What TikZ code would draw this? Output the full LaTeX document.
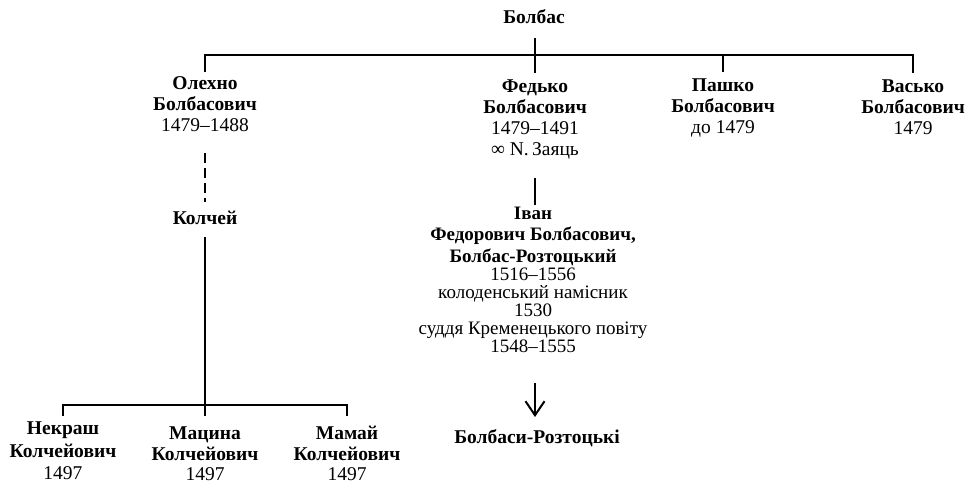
\documentclass[tikz,border=0pt]{standalone}
\usepackage{fontspec}
\setmainfont{Liberation Serif}
\usetikzlibrary{arrows.meta}
\tikzset{
  person/.style={align=center, inner sep=0pt, anchor=base, font=\rmfamily\fontsize{19.5}{21}\selectfont},
  link/.style={line width=2pt},
  dlink/.style={line width=2pt, dash pattern=on 10pt off 5pt},
}
\newcommand{\nmb}[1]{{\bfseries #1}}
\begin{document}
\begin{tikzpicture}[x=1pt,y=-1pt]
\useasboundingbox (0,0) rectangle (968,483);
% root
\node[person] (bolbas) at (534,23) {\nmb{Болбас}};
\coordinate (bt) at (535,38);
\coordinate (bb) at (535,73);
\coordinate (hl) at (205,55);
\coordinate (hr) at (913,55);
\coordinate (ol) at (205,72);
\coordinate (vl) at (913,73);
\coordinate (pj1) at (723,55);
\coordinate (pj2) at (723,72);
\draw[link] (bt) -- (bb);
\draw[link] (ol) -- (hl) -- (hr) -- (vl);
\draw[link] (pj1) -- (pj2);
% children
\node[person] (olekhno) at (205,131.5) {\nmb{Олехно}\\\nmb{Болбасович}\\1479–1488};
\node[person] (fedko) at (535,155) {\nmb{Федько}\\\nmb{Болбасович}\\1479–1491\\∞ N.\,Заяць};
\node[person] (pashko) at (723,133) {\nmb{Пашко}\\\nmb{Болбасович}\\до 1479};
\node[person] (vasko) at (913,134.5) {\nmb{Васько}\\\nmb{Болбасович}\\1479};
% Kolchei
\coordinate (d1) at (205,153);
\coordinate (d2) at (205,202);
\draw[dlink] (d1) -- (d2);
\node[person] (kolchei) at (205,224) {\nmb{Колчей}};
\coordinate (k1) at (205,237);
\coordinate (k2) at (205,405);
\coordinate (kl) at (63,405);
\coordinate (kr) at (347,405);
\coordinate (kl2) at (63,416);
\coordinate (kr2) at (347,416);
\coordinate (km2) at (205,416);
\draw[link] (k1) -- (k2) -- (km2);
\draw[link] (kl2) -- (kl) -- (kr) -- (kr2);
\node[person, font=\rmfamily\fontsize{19.5}{22.5}\selectfont] (nekrash) at (63,479.5) {\nmb{Некраш}\\\nmb{Колчейович}\\1497};
\node[person, font=\rmfamily\fontsize{19.5}{20.5}\selectfont] (matsyna) at (205,480.5) {\nmb{Мацина}\\\nmb{Колчейович}\\1497};
\node[person, font=\rmfamily\fontsize{19.5}{20.5}\selectfont] (mamai) at (347,480.5) {\nmb{Мамай}\\\nmb{Колчейович}\\1497};
% Ivan
\coordinate (i1) at (535,178);
\coordinate (i2) at (535,205);
\draw[link] (i1) -- (i2);
\node[person, font=\rmfamily\fontsize{19}{18}\selectfont] (ivan) at (533,352.5)
 {\nmb{Іван}\\[3pt]\nmb{Федорович Болбасович,}\\[4pt]\nmb{Болбас-Розтоцький}\\[0pt]1516–1556\\колоденський намісник\\1530\\суддя Кременецького повіту\\1548–1555};
\coordinate (a1) at (535,383);
\coordinate (a2) at (535,417);
\draw[link, -{Straight Barb[length=14pt,width=19pt,line width=2pt]}] (a1) -- (a2);
\node[person] (rozt) at (537,443) {\nmb{Болбаси-Розтоцькі}};
\end{tikzpicture}
\end{document}
